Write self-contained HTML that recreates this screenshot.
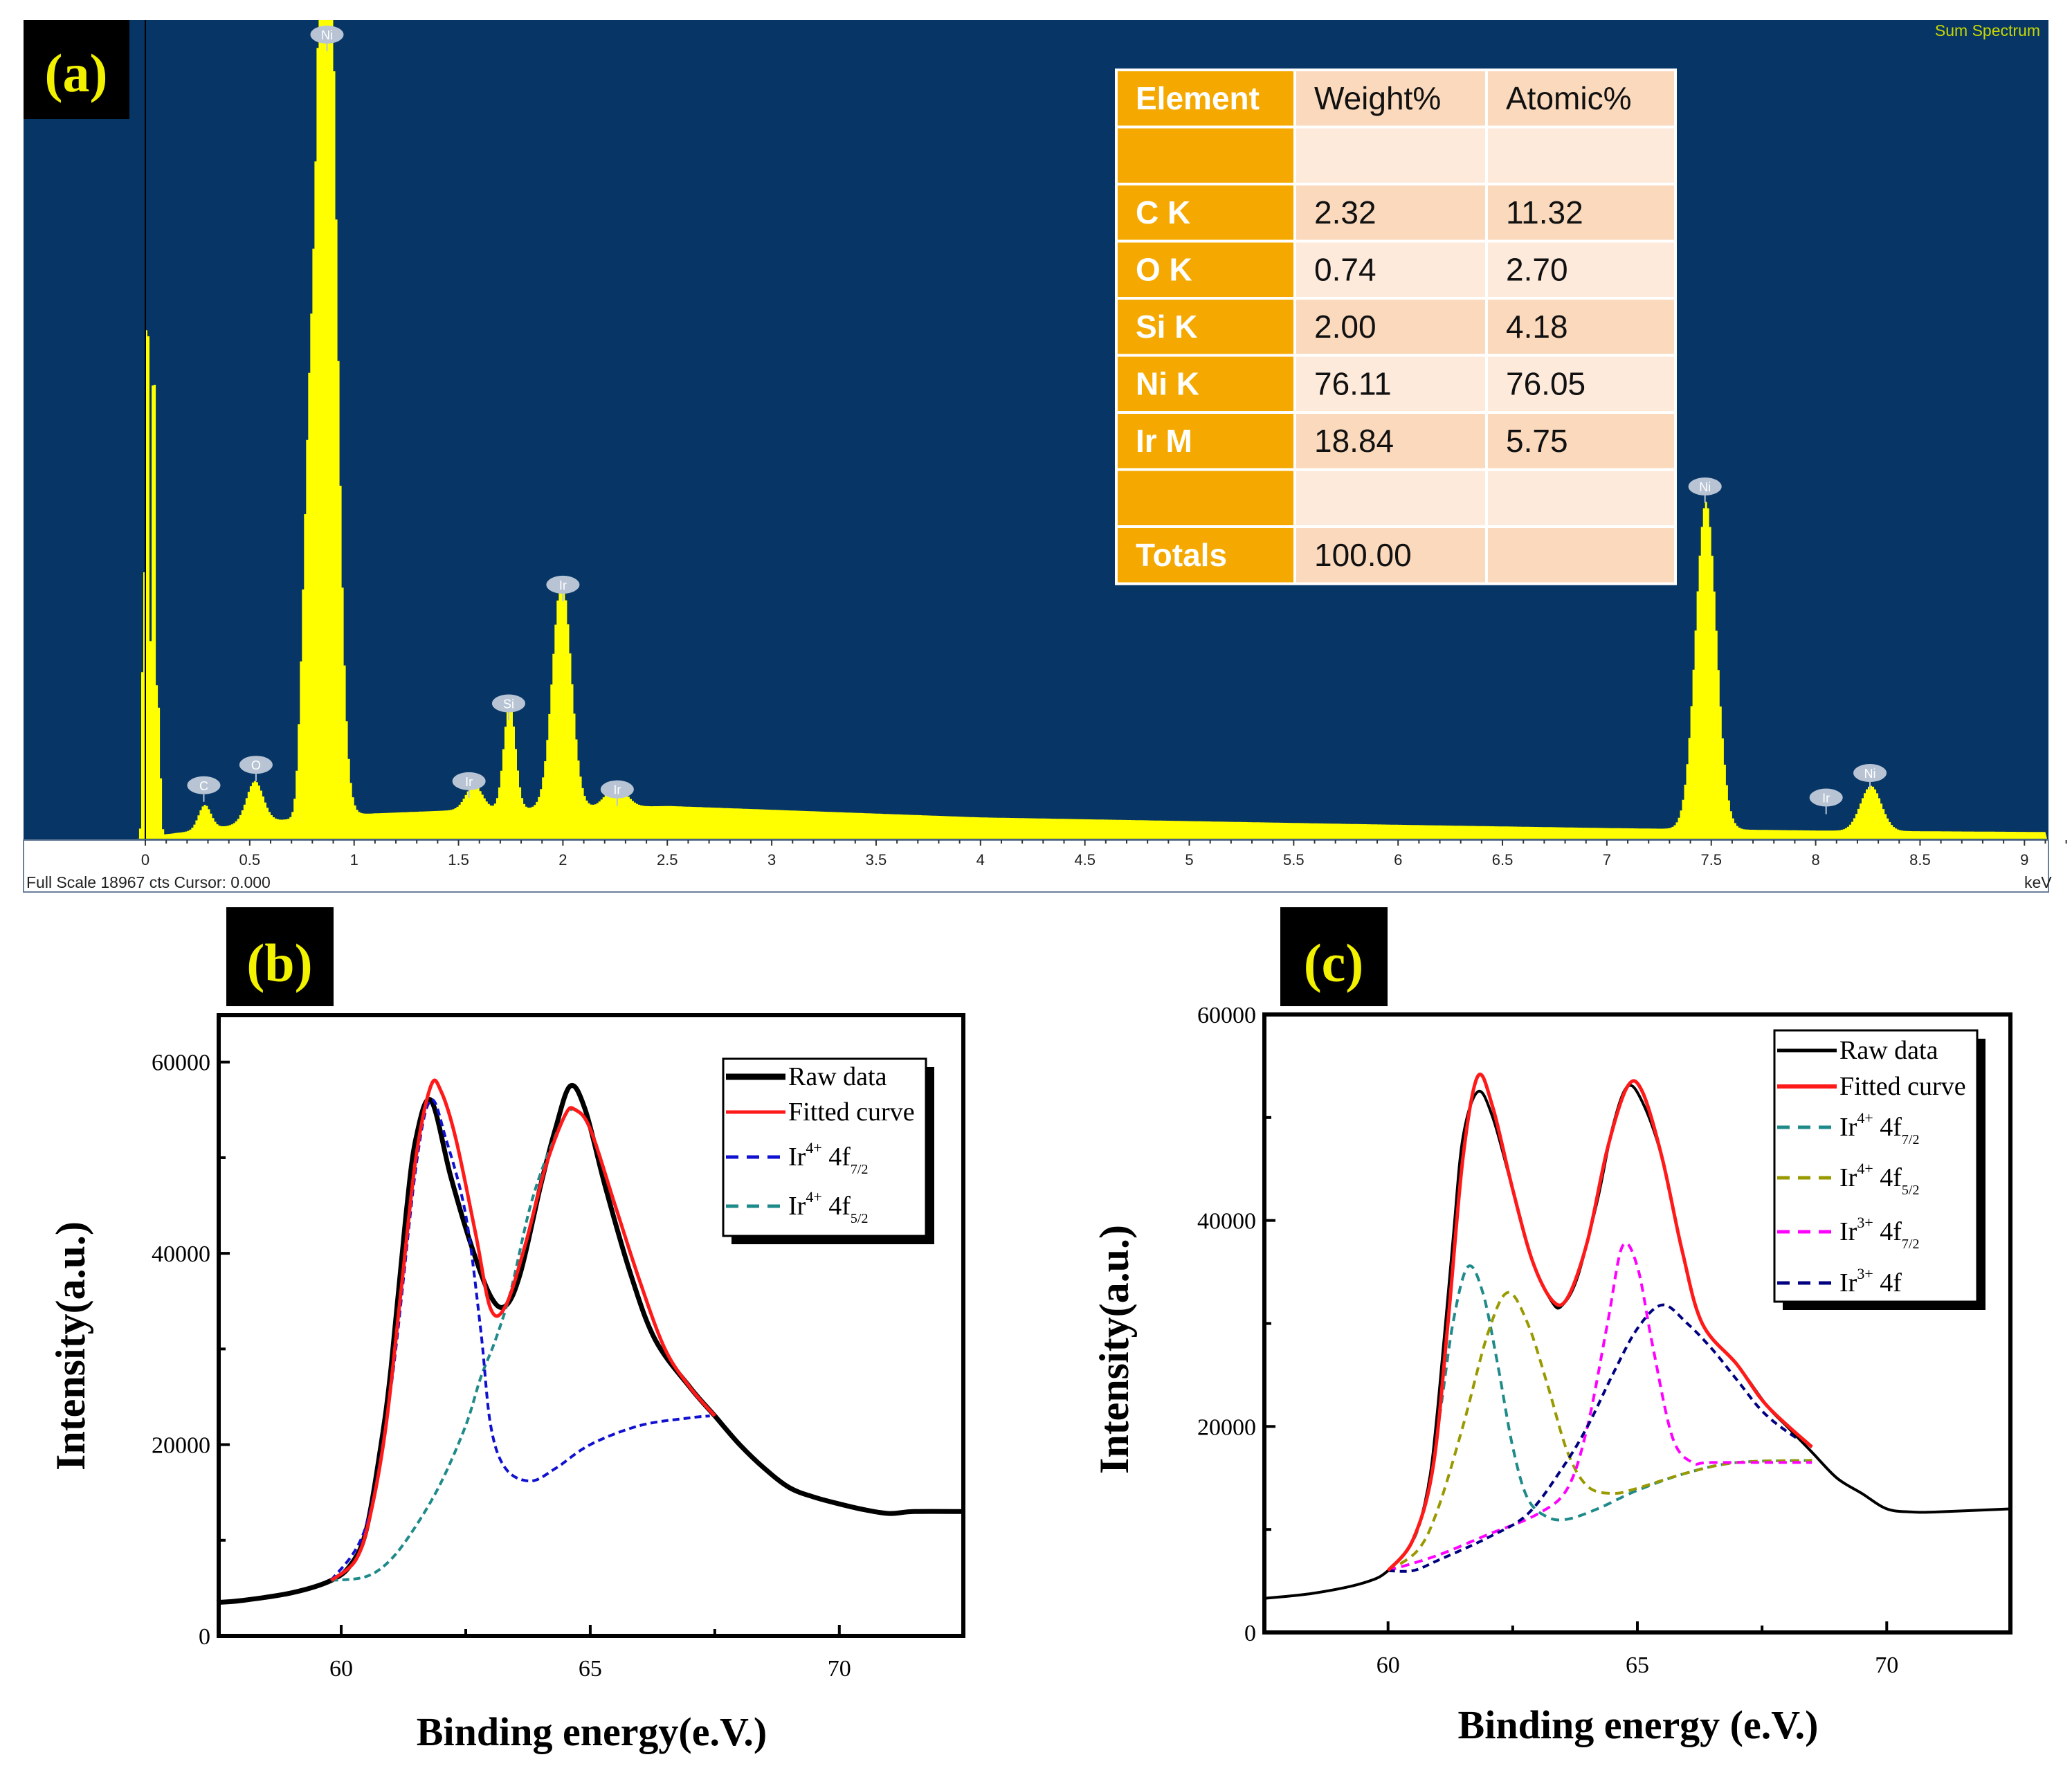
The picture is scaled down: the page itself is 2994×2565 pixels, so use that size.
<!DOCTYPE html>
<html><head><meta charset="utf-8">
<style>
html,body{margin:0;padding:0;background:#fff;}
svg{display:block;}
text{font-family:"Liberation Serif",serif;}
.sans{font-family:"Liberation Sans",sans-serif;}
</style></head>
<body>
<svg id="root" width="2994" height="2565" viewBox="0 0 2994 2565" xmlns="http://www.w3.org/2000/svg">
  <g id="pa">
    <rect x="34" y="29" width="2926" height="1185" fill="#063566"/>
    <rect x="34" y="1214" width="2926" height="75" fill="#ffffff" stroke="#6a7f99" stroke-width="2"/>
    <g id="spec"></g>
    <g id="aTicks"></g>
    <text x="38" y="1283" class="sans" font-size="23" fill="#222">Full Scale 18967 cts Cursor: 0.000</text>
    <text x="2925" y="1283" class="sans" font-size="23" fill="#222">keV</text>
    <text x="2948" y="52" class="sans" font-size="23" fill="#c8d800" text-anchor="end">Sum Spectrum</text>
    <rect x="34" y="29" width="153" height="143" fill="#000"/>
    <text x="110" y="132" font-size="78" font-weight="bold" fill="#f2f200" text-anchor="middle">(a)</text>
    <g id="tbl"></g>
  </g>
  <g id="pb"></g>
  <g id="pc"></g>
</svg>
<script>
const NS="http://www.w3.org/2000/svg";
function mk(tag,attrs,parent){const e=document.createElementNS(NS,tag);for(const k in attrs)e.setAttribute(k,attrs[k]);parent.appendChild(e);return e;}

/* ---------- EDS data ---------- */
const peakE=[-0.015,0.005,0.035,0.06,0.28,0.52,0.75,0.78,0.86,1.57,1.74,1.99,2.25,7.47,8.26];
const peakH=[0.28,0.74,0.66,0.15,0.03,0.05,0.14,0.22,1.35,0.03,0.13,0.28,0.025,0.40,0.055];
const peakW=[0.006,0.008,0.008,0.008,0.03,0.04,0.02,0.02,0.045,0.04,0.028,0.045,0.05,0.05,0.05];
const bgE=[0.08,0.3,0.5,1.0,1.5,2.5,4.0,6.0,7.0,8.0,9.2];
const bgV=[0.005,0.012,0.02,0.03,0.035,0.04,0.026,0.017,0.013,0.01,0.008];
const lblName=["Ni","C","O","Ir","Si","Ir","Ir","Ni","Ir","Ni"];
const lblE=[0.87,0.28,0.53,1.55,1.74,2.0,2.26,7.47,8.05,8.26];
const lblH=[0.99,0.045,0.07,0.05,0.145,0.29,0.04,0.41,0.03,0.06];
const tblHead=["Element","Weight%","Atomic%"];
const tblRows=[["","",""],["C K","2.32","11.32"],["O K","0.74","2.70"],["Si K","2.00","4.18"],["Ni K","76.11","76.05"],["Ir M","18.84","5.75"],["","",""],["Totals","100.00",""]];

const aX0=210,aK=301.7,aBase=1212,aTop=29,aH=1183;
const ax=e=>aX0+e*aK, ay=v=>aBase-v*aH;
function interp(xs,ys,x){if(x<=xs[0])return x<xs[0]-0.05?0:ys[0];if(x>=xs[xs.length-1])return ys[ys.length-1];for(let i=1;i<xs.length;i++)if(x<=xs[i]){const t=(x-xs[i-1])/(xs[i]-xs[i-1]);return ys[i-1]+t*(ys[i]-ys[i-1]);}}
(function(){
  const g=document.getElementById('spec');
  const eEnd=(2958-aX0)/aK;
  let d="M"+ax(-0.04)+","+aBase;
  for(let e=-0.04;e<eEnd-0.01;e+=0.01){
    let v=interp(bgE,bgV,e);
    for(let i=0;i<peakE.length;i++){v+=peakH[i]*Math.exp(-0.5*Math.pow((e-peakE[i])/peakW[i],2));}
    v=Math.min(v,1.01);
    const y=Math.max(ay(v),aTop);
    d+=" L"+ax(e).toFixed(1)+","+y.toFixed(1)+" L"+ax(e+0.01).toFixed(1)+","+y.toFixed(1);
  }
  d+=" L"+ax(eEnd).toFixed(1)+","+aBase+" Z";
  const p=mk('path',{d:d,fill:'#ffff00'},g);
  
  
  const l=mk('line',{x1:ax(0),y1:aTop,x2:ax(0),y2:aBase,stroke:'#000',"stroke-width":2},g);
  
  
  for(let i=0;i<lblName.length;i++){
    const cx=ax(lblE[i]),cy=Math.max(ay(lblH[i])-24,50);
    const b=mk('g',{},g);
    
    
    mk('ellipse',{cx:cx,cy:cy,rx:24,ry:13,fill:'#b8c4d4'},b);
    mk('line',{x1:cx,y1:cy+13,x2:cx,y2:cy+24,stroke:'#b8c4d4',"stroke-width":2},b);
    const t=mk('text',{x:cx,y:cy+7,"font-size":18,fill:'#fff',"text-anchor":'middle',class:'sans'},b);t.textContent=lblName[i];
  }
  const tk=document.getElementById('aTicks');
  for(let k=0;k<=92;k++){const e=k/10;const x=ax(e);const major=k%5===0;
    const ln=mk('line',{x1:x,y1:1214,x2:x,y2:1214+(major?8:5),stroke:'#333',"stroke-width":2},tk);
    
    
    if(major&&k<=90){const t=mk('text',{x:x,y:1250,"font-size":22,fill:'#222',"text-anchor":'middle',class:'sans'},tk);t.textContent=String(e);
      
      }
  }
  const tb=document.getElementById('tbl');
  const cx=[1613,1871,2148,2421], rowH=82.5, ty=101;
  const all=[tblHead].concat(tblRows);
  for(let r=0;r<all.length;r++){
    for(let c=0;c<3;c++){
      const fill=c===0?'#f5a900':(r%2===0?'#fbd9bd':'#fdeadb');
      const rc=mk('rect',{x:cx[c],y:ty+r*rowH,width:cx[c+1]-cx[c],height:rowH,fill:fill,stroke:'#ffffff',"stroke-width":4},tb);
      
      
      if(all[r][c]){const t=mk('text',{x:cx[c]+28,y:ty+r*rowH+57,"font-size":46,class:'sans',fill:c===0?'#fff':'#111',"font-weight":c===0?'bold':'normal'},tb);t.textContent=all[r][c];
        
        }
    }
  }
})();

/* ---------- XPS panel B data ---------- */
const bRawX=[57.5,58,59,59.8,60.2,60.5,60.8,61,61.3,61.5,61.8,62.2,62.6,63.0,63.3,63.6,64.0,64.3,64.6,64.9,65.3,65.8,66.3,67,67.5,68,68.5,69,69.5,70,70.5,71,71.5,72.5];
const bRawY=[3.5,3.7,4.5,5.8,7.5,11,20,28,44,52,56,48,41,35.5,34.5,38,47,53,57.5,55,47,38,31,26,23,20,17.5,15.5,14.5,13.8,13.2,12.8,13,13];
const bFitX=[59.8,60.3,60.6,60.9,61.2,61.5,61.8,62.0,62.3,62.7,63.0,63.3,63.7,64.1,64.5,64.7,65.0,65.5,66,66.5,67,67.5];
const bFitY=[5.8,8,13,22,36,50,57.5,57,52,42,34.2,34.5,41,49,54.5,55,53,45,37,30,26,23];
const bP1X=[59.8,60.5,61,61.5,61.8,62.1,62.5,62.8,63.0,63.3,63.8,64.3,65,66,67,67.4];
const bP1Y=[5.8,11.5,26,49,56,52,44,32,22,17.5,16.2,17.5,20,22,22.8,23];
const bP2X=[59.8,60.5,61,61.5,62,62.5,62.8,63.1,63.4,63.8,64.2,64.6,65,65.5,66,66.5,67,67.5];
const bP2Y=[5.8,6.2,8,11.5,16,22,27,31,36,45,51,55,53,45,37,30,26,23];

/* ---------- XPS panel C data ---------- */
const cRawX=[57.5,58.5,59.5,60,60.5,60.8,61,61.3,61.5,61.8,62.1,62.5,62.9,63.3,63.5,63.8,64.2,64.5,64.8,65.1,65.5,65.9,66.3,67,67.6,68,68.5,69,69.5,70,70.5,71,72.5];
const cRawY=[3.3,3.8,4.8,6,9,14,22,38,48,52.5,50,43,36,32,31.8,34.5,42,49,53,51.5,46,37,30,26,22,20,17.5,15,13.5,12,11.7,11.7,12];
const cFitX=[60,60.5,60.9,61.2,61.5,61.8,62.1,62.5,62.9,63.3,63.6,64,64.4,64.8,65.1,65.5,65.9,66.3,67,67.6,68.5];
const cFitY=[6,9,16,30,46,54,51,43,36,32.2,32.5,38,47,53,52.5,46,37,30,26,22,18];
const cP1X=[60,60.6,61,61.3,61.6,61.9,62.2,62.5,62.8,63.2,63.6,64.2,65,66,67,68.5];
const cP1Y=[6,10,20,30,35.5,33,26,18,13,11.2,11,12,13.8,15.5,16.5,16.7];
const cP2X=[60,60.6,61,61.5,62,62.4,62.8,63.2,63.6,64,64.5,65,66,67,68.5];
const cP2Y=[6,8,12,20,29,33,30,24,17.5,14.2,13.5,14,15.5,16.5,16.7];
const cP3X=[60,61,62,63,63.6,64,64.4,64.7,65,65.3,65.7,66.1,66.5,68.5];
const cP3Y=[6,7.5,9.5,11.5,14,20,30,37.5,35.5,28,19,16.5,16.5,16.5];
const cP4X=[60,60.5,61,62,62.8,63.5,64,64.5,65,65.5,66,66.5,67,67.5,68,68.5];
const cP4Y=[6,6,7,9.2,11.5,16,20,25,29.5,31.8,30,27.5,24.5,21.5,19.5,18];

const xTickMajor=[60,65,70];
const bYTicks=[0,20000,40000,60000];
const cYTicks=[0,20000,40000,60000];

function smoothPath(pts){
  let d="M"+pts[0][0].toFixed(1)+","+pts[0][1].toFixed(1);
  for(let i=0;i<pts.length-1;i++){
    const p0=pts[i-1]||pts[i],p1=pts[i],p2=pts[i+1],p3=pts[i+2]||p2;
    const c1x=p1[0]+(p2[0]-p0[0])/6,c1y=p1[1]+(p2[1]-p0[1])/6;
    const c2x=p2[0]-(p3[0]-p1[0])/6,c2y=p2[1]-(p3[1]-p1[1])/6;
    d+=` C${c1x.toFixed(1)},${c1y.toFixed(1)} ${c2x.toFixed(1)},${c2y.toFixed(1)} ${p2[0].toFixed(1)},${p2[1].toFixed(1)}`;
  }
  return d;
}

function xpsPanel(gid,cfg){
  const g=document.getElementById(gid);
  const sx=v=>cfg.x0+(v-cfg.xmin)/(cfg.xmax-cfg.xmin)*(cfg.x1-cfg.x0);
  const sy=v=>cfg.yb-v/cfg.ymax*(cfg.yb-cfg.yt);
  const lb=mk('rect',{x:cfg.lbx,y:1311,width:155,height:143,fill:'#000'},g);
  
  
  const lt=mk('text',{x:cfg.lbx+77,y:1418,"font-size":78,"font-weight":'bold',fill:'#f2f200',"text-anchor":'middle'},g);lt.textContent=cfg.label;
  
  
  for(const s of cfg.series){
    const pts=s.x.map((x,i)=>[sx(x),sy(s.y[i])]);
    const p=mk('path',{d:smoothPath(pts),fill:'none',stroke:s.color,"stroke-width":s.w,"stroke-linejoin":'round'},g);
    if(s.dash)p.setAttribute('stroke-dasharray',s.dash);
    
    
  }
  const fr=mk('rect',{x:cfg.x0,y:cfg.yt,width:cfg.x1-cfg.x0,height:cfg.yb-cfg.yt,fill:'none',stroke:'#000',"stroke-width":6},g);
  
  
  for(let v=57.5;v<=72.5;v+=2.5){const x=sx(v);if(x<cfg.x0+4||x>cfg.x1-4)continue;const major=xTickMajor.indexOf(v)>=0;
    const t=mk('line',{x1:x,y1:cfg.yb,x2:x,y2:cfg.yb-(major?16:10),stroke:'#000',"stroke-width":4},g);
    
    }
  for(const v of xTickMajor){const t=mk('text',{x:sx(v),y:cfg.yb+58,"font-size":34,"text-anchor":'middle'},g);t.textContent=v;
    
    }
  for(let v=0;v<=cfg.ymax*1000;v+=10000){const y=sy(v/1000);if(y<cfg.yt+2)continue;const major=v%20000===0;
    const t=mk('line',{x1:cfg.x0,y1:y,x2:cfg.x0+(major?16:10),y2:y,stroke:'#000',"stroke-width":4},g);
    
    }
  for(const v of cfg.yTicks){const t=mk('text',{x:cfg.x0-12,y:sy(v/1000)+12,"font-size":34,"text-anchor":'end'},g);t.textContent=v;
    
    }
  const yt=mk('text',{x:0,y:0,"font-size":60,"font-weight":'bold',"text-anchor":'middle',transform:`translate(${cfg.ytx},${cfg.yty}) rotate(-90)`},g);yt.textContent="Intensity(a.u.)";
  
  
  const xt=mk('text',{x:cfg.xtx,y:cfg.xty,"font-size":58,"font-weight":'bold',"text-anchor":'middle'},g);xt.textContent=cfg.xtitle;
  
  
  const L=cfg.leg;
  const lg=mk('g',{},g);
  
  
  mk('rect',{x:L.x+12,y:L.y+12,width:L.w,height:L.h,fill:'#000'},lg);
  mk('rect',{x:L.x,y:L.y,width:L.w,height:L.h,fill:'#fff',stroke:'#000',"stroke-width":3},lg);
  for(const e of L.items){
    const en=mk('g',{},lg);
    
    
    const ln=mk('line',{x1:L.x+4,y1:e.y,x2:L.x+90,y2:e.y,stroke:e.color,"stroke-width":e.w},en);
    if(e.dash)ln.setAttribute('stroke-dasharray',e.dash);
    const t=mk('text',{x:L.x+94,y:e.y+12,"font-size":38},en);
    if(e.sup){t.appendChild(document.createTextNode('Ir'));
      const s1=mk('tspan',{"font-size":22,dy:-18},t);s1.textContent=e.sup;
      const s2=mk('tspan',{dy:18},t);s2.textContent=' 4f';
      if(e.sub){const s3=mk('tspan',{"font-size":20,dy:12},t);s3.textContent=e.sub;}
    } else t.textContent=e.text;
  }
}

xpsPanel('pb',{x0:316,x1:1392,xmin:57.54,xmax:72.49,yt:1467,yb:2364,ymax:64.9,yTicks:bYTicks,label:'(b)',lbx:327,
  ytx:122,yty:1945,xtx:855,xty:2522,xtitle:'Binding energy(e.V.)',
  series:[
    {name:'raw-data-line',x:bRawX,y:bRawY,color:'#000',w:7},
    {name:'ir4-4f52-line',x:bP2X,y:bP2Y,color:'#1f8a8a',w:4,dash:'10,6'},
    {name:'ir4-4f72-line',x:bP1X,y:bP1Y,color:'#1010d0',w:4,dash:'10,6'},
    {name:'fitted-curve-line',x:bFitX,y:bFitY,color:'#ff1a1a',w:5},
  ],
  leg:{x:1045,y:1530,w:293,h:256,items:[
    {text:'Raw data',y:1556,color:'#000',w:9},
    {text:'Fitted curve',y:1607,color:'#ff1a1a',w:5},
    {sup:'4+',sub:'7/2',y:1672,color:'#1010d0',w:5,dash:'18,12'},
    {sup:'4+',sub:'5/2',y:1743,color:'#1f8a8a',w:5,dash:'18,12'}]}
});
xpsPanel('pc',{x0:1827,x1:2905,xmin:57.52,xmax:72.48,yt:1466,yb:2359,ymax:60,yTicks:cYTicks,label:'(c)',lbx:1850,
  ytx:1630,yty:1950,xtx:2367,xty:2512,xtitle:'Binding energy (e.V.)',
  series:[
    {name:'ir4-4f72-line',x:cP1X,y:cP1Y,color:'#1f8a8a',w:4,dash:'12,8'},
    {name:'ir4-4f52-line',x:cP2X,y:cP2Y,color:'#999900',w:4,dash:'12,8'},
    {name:'ir3-4f72-line',x:cP3X,y:cP3Y,color:'#ff00ff',w:4,dash:'12,8'},
    {name:'ir3-4f-line',x:cP4X,y:cP4Y,color:'#000080',w:4,dash:'10,7'},
    {name:'raw-data-line',x:cRawX,y:cRawY,color:'#000',w:4},
    {name:'fitted-curve-line',x:cFitX,y:cFitY,color:'#ff1a1a',w:5},
  ],
  leg:{x:2564,y:1489,w:293,h:392,items:[
    {text:'Raw data',y:1518,color:'#000',w:5},
    {text:'Fitted curve',y:1570,color:'#ff1a1a',w:6},
    {sup:'4+',sub:'7/2',y:1629,color:'#1f8a8a',w:5,dash:'18,12'},
    {sup:'4+',sub:'5/2',y:1702,color:'#999900',w:5,dash:'18,12'},
    {sup:'3+',sub:'7/2',y:1780,color:'#ff00ff',w:5,dash:'18,12'},
    {sup:'3+',sub:'',y:1854,color:'#000080',w:5,dash:'18,12'}]}
});
</script>
</body></html>
